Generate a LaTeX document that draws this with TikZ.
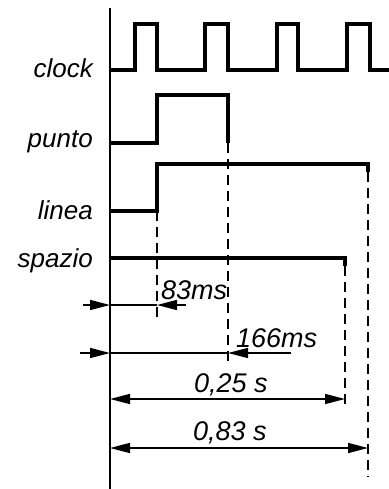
\documentclass[tikz,border=0pt]{standalone}
\usepackage{fontspec}
\setsansfont{Liberation Sans}
\usetikzlibrary{arrows.meta}
\tikzset{
  signal/.style={line width=3.6pt, line join=miter},
  guide/.style={line width=2.2pt, dash pattern=on 10pt off 6pt},
  dim/.style={line width=1.5pt},
  tip/.style={-{Triangle[length=20pt,width=10pt]}},
  lbl/.style={font=\sffamily\itshape\fontsize{26}{26}\selectfont, inner sep=0pt},
  num/.style={font=\sffamily\itshape\fontsize{27}{27}\selectfont, inner sep=0pt},
}
\begin{document}
\begin{tikzpicture}[x=1pt, y=-1pt]
  \useasboundingbox (0,0) rectangle (388,489);
  % time axis
  \draw[line width=2.2pt] (110,8) -- (110,489);
  % signal names
  \node[lbl, anchor=base east] (clk)   at (93,78)  {clock};
  \node[lbl, anchor=base east] (pto)   at (93,148) {punto};
  \node[lbl, anchor=base east] (lin)   at (93,219) {linea};
  \node[lbl, anchor=base east] (spz)   at (93,267) {spazio};
  % clock
  \draw[signal] (110,70) -| (135,24) -| (157,70) -| (205,24) -| (228,70)
    -| (277,24) -| (298,70) -| (347,24) -| (370,70) -- (390,70);
  % punto
  \draw[signal] (110,143) -| (157,95) -| (228,143);
  % linea
  \draw[signal] (110,211) -| (157,164) -- (368,164) -- (368,172);
  % spazio
  \draw[signal] (110,258) -- (345,258) -- (345,266);
  % time marks
  \coordinate (t1) at (157,211);
  \coordinate (t2) at (228,143);
  \coordinate (t3) at (345,266);
  \coordinate (t4) at (368,172);
  \draw[guide] (t1) -- (157,323);
  \draw[guide] (t2) -- (228,362);
  \draw[guide] (t3) -- (345,408);
  \draw[guide] (t4) -- (368,477);
  % 83 ms
  \draw[dim, tip] (83,305) -- (110,305);
  \draw[dim] (110,305) -- (157,305);
  \draw[dim, tip] (186,305) -- (157,305);
  \node[num, anchor=base west] (d1) at (161,299) {83ms};
  % 166 ms
  \draw[dim, tip] (80,353) -- (110,353);
  \draw[dim] (110,353) -- (228,353);
  \draw[dim, tip] (291,353) -- (228,353);
  \node[num, anchor=base west] (d2) at (236,347) {166ms};
  % 0,25 s
  \draw[dim, {Triangle[length=20pt,width=10pt]}-{Triangle[length=20pt,width=10pt]}]
    (110,399) -- (345,399);
  \node[num, anchor=base west] (d3) at (194,392) {0,25 s};
  % 0,83 s
  \draw[dim, {Triangle[length=20pt,width=10pt]}-{Triangle[length=20pt,width=10pt]}]
    (110,448) -- (368,448);
  \node[num, anchor=base west] (d4) at (193,440) {0,83 s};
\end{tikzpicture}
\end{document}
